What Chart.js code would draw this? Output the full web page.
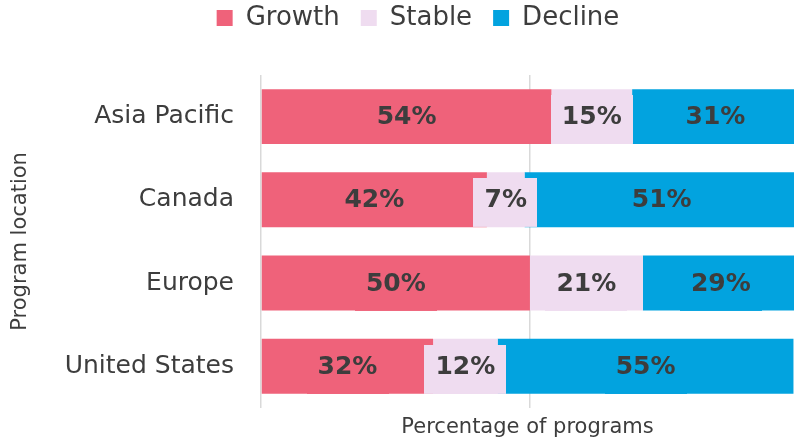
<!DOCTYPE html>
<html>
<head>
<meta charset="utf-8">
<script src="https://cdn.jsdelivr.net/npm/chart.js@4/dist/chart.umd.min.js"></script>
<style>
  html, body { margin: 0; padding: 0; background: #fff; }
  canvas { display: block; }
</style>
</head>
<body>
<canvas id="chart" width="794" height="440"></canvas>
<script>
// --- data ---
const locations = ['Asia Pacific', 'Canada', 'Europe', 'United States'];
const growth = [54, 42, 50, 32];
const stable = [15, 7, 21, 12];
const decline = [31, 51, 29, 55];
const gridTicks = [0, 50, 100];

const FONT = "'DejaVu Sans', Verdana, sans-serif";
const TEXT = '#3d3d3d';
const colors = { growth: '#ef627a', stable: '#efdcf0', decline: '#02a3df' };

// labels in the middle of each segment, on a box of the segment colour
const segmentLabels = {
    id: 'segmentLabels',
    afterDatasetsDraw(chart) {
        const ctx = chart.ctx;
        ctx.save();
        ctx.font = 'bold 25px ' + FONT;
        ctx.textAlign = 'center';
        ctx.textBaseline = 'middle';
        chart.data.datasets.forEach((ds, i) => {
            const meta = chart.getDatasetMeta(i);
            meta.data.forEach((bar, j) => {
                const text = ds.data[j] + '%';
                const cx = (bar.x + bar.base) / 2;
                const cy = bar.y;
                const w = ctx.measureText(text).width + 22;
                const h = bar.height - 6;
                ctx.fillStyle = ds.backgroundColor;
                ctx.fillRect(Math.round(cx - w / 2), Math.round(cy - bar.height / 2 + 6), Math.round(w), h);
                ctx.fillStyle = TEXT;
                ctx.fillText(text, cx, cy + 1);
            });
        });
        ctx.restore();
    }
};

// push the plot area down below the legend, and nudge the legend to the right
const legendSpace = {
    id: 'legendSpace',
    beforeInit(chart) {
        const fit = chart.legend.fit;
        chart.legend.fit = function () {
            fit.bind(chart.legend)();
            this.height = 91;
        };
    },
    afterLayout(chart) {
        chart.legend.left += 21;
        chart.legend.right += 21;
    }
};

new Chart(document.getElementById('chart'), {
    type: 'bar',
    data: {
        labels: locations,
        datasets: [
            { label: 'Growth', data: growth, backgroundColor: colors.growth },
            { label: 'Stable', data: stable, backgroundColor: colors.stable },
            { label: 'Decline', data: decline, backgroundColor: colors.decline }
        ]
    },
    options: {
        indexAxis: 'y',
        responsive: false,
        animation: false,
        devicePixelRatio: 1,
        layout: { padding: { top: -16, right: 0, bottom: 0, left: 0 } },
        datasets: { bar: { barPercentage: 0.66, categoryPercentage: 1 } },
        plugins: {
            legend: {
                position: 'top',
                labels: {
                    color: TEXT,
                    font: { family: FONT, size: 26 },
                    boxWidth: 16,
                    boxHeight: 16,
                    padding: 21
                }
            },
            tooltip: { enabled: false }
        },
        scales: {
            x: {
                stacked: true,
                min: 0,
                max: 99.1,
                afterBuildTicks: axis => { axis.ticks = gridTicks.map(v => ({ value: v })); },
                ticks: { display: false },
                grid: { color: '#d9d9d9', lineWidth: 1.5, drawTicks: false },
                border: { display: false },
                title: { display: true, text: 'Percentage of programs', color: TEXT, font: { family: FONT, size: 21 }, padding: { top: 7, bottom: 0 } }
            },
            y: {
                stacked: true,
                afterFit: scale => {
                    scale.width = 261;
                    scale.paddingTop = 0;
                    scale.paddingBottom = 0;
                },
                ticks: { color: TEXT, font: { family: FONT, size: 25 }, padding: 27 },
                grid: { display: false, drawTicks: false },
                border: { display: false },
                title: { display: true, text: 'Program location', color: TEXT, font: { family: FONT, size: 21 }, padding: { top: 8, bottom: 4 } }
            }
        }
    },
    plugins: [segmentLabels, legendSpace]
});
</script>
</body>
</html>
